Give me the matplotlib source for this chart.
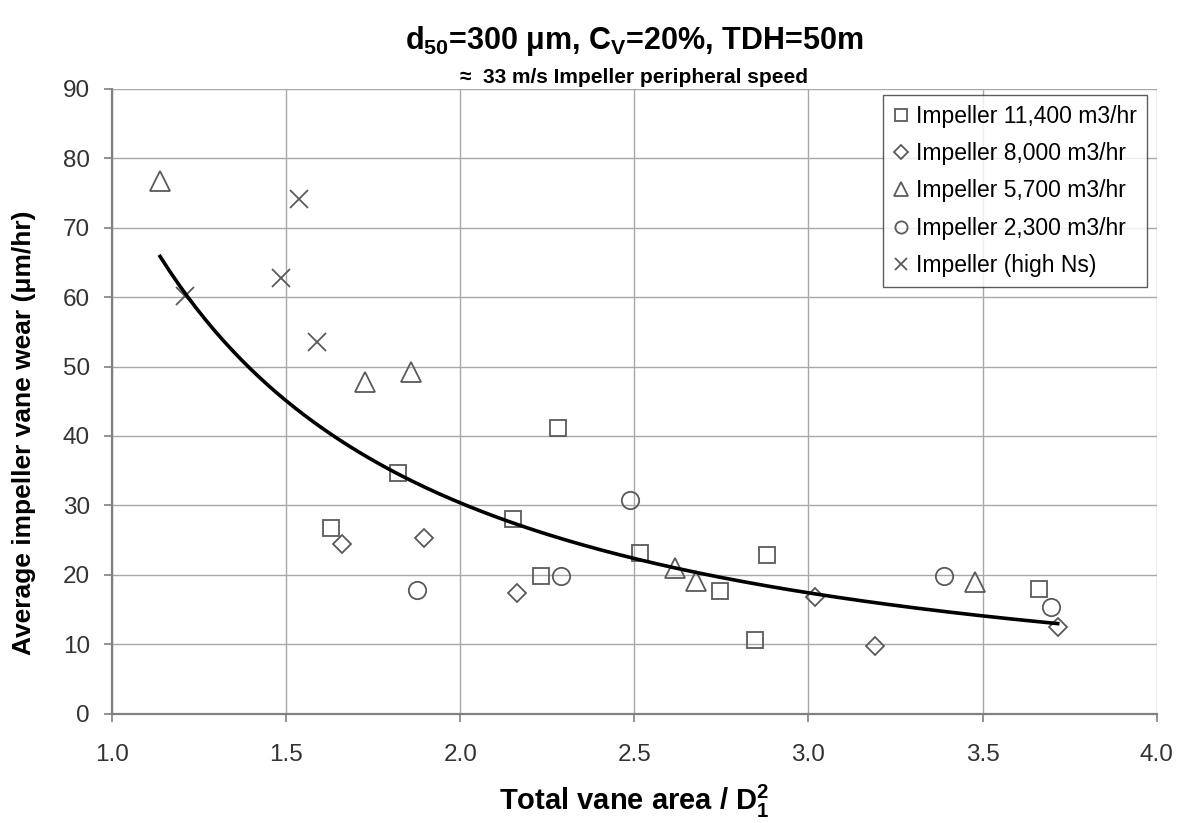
import numpy as np
import matplotlib
matplotlib.use("Agg")
import matplotlib.pyplot as plt

plt.rcParams["font.family"] = ["Liberation Sans", "DejaVu Sans"]
plt.rcParams["mathtext.fontset"] = "custom"
plt.rcParams["mathtext.rm"] = "Liberation Sans"
plt.rcParams["mathtext.bf"] = "Liberation Sans:bold"
plt.rcParams["mathtext.it"] = "Liberation Sans:italic"

# ----------------------------
# Data
# ----------------------------
sq_x = [1.82, 1.628, 2.152, 2.233, 2.282, 2.515, 2.745, 2.848, 2.881, 3.662]
sq_y = [34.7, 26.7, 28.1, 19.8, 41.2, 23.2, 17.7, 10.6, 22.9, 18.0]

dia_x = [1.66, 1.896, 2.163, 3.02, 3.192, 3.716]
dia_y = [24.4, 25.3, 17.3, 16.8, 9.8, 12.5]

tri_x = [1.138, 1.726, 1.858, 2.616, 2.676, 3.479]
tri_y = [76.8, 47.8, 49.2, 20.9, 19.1, 19.0]

circ_x = [1.875, 2.289, 2.488, 3.388, 3.697]
circ_y = [17.8, 19.8, 30.7, 19.8, 15.3]

ns_x = [1.21, 1.485, 1.537, 1.588]
ns_y = [60.1, 62.7, 74.1, 53.6]

labels = ["Impeller 11,400 m3/hr", "Impeller 8,000 m3/hr", "Impeller 5,700 m3/hr",
          "Impeller 2,300 m3/hr", "Impeller (high Ns)"]
x_ticks = [1.0, 1.5, 2.0, 2.5, 3.0, 3.5, 4.0]
y_ticks = [0, 10, 20, 30, 40, 50, 60, 70, 80, 90]

# power trendline fitted to all points (log-log least squares)
all_x = np.array(sq_x + dia_x + tri_x + circ_x + ns_x)
all_y = np.array(sq_y + dia_y + tri_y + circ_y + ns_y)
b, loga = np.polyfit(np.log(all_x), np.log(all_y), 1)
fit_x = np.linspace(all_x.min(), all_x.max(), 200)
fit_y = np.exp(loga) * fit_x ** b

fig = plt.figure(figsize=(11.79, 8.23), dpi=100)
ax = fig.add_axes([0.095, 0.133, 0.886, 0.759])

mc = "#5a5a5a"
common = dict(linestyle="none", markerfacecolor="none", markeredgecolor=mc, markeredgewidth=1.3)
ax.plot(sq_x, sq_y, marker="s", markersize=12, label=labels[0], **common)
ax.plot(dia_x, dia_y, marker="D", markersize=9.5, label=labels[1], **common)
ax.plot(tri_x, tri_y, marker="^", markersize=14, label=labels[2], **common)
ax.plot(circ_x, circ_y, marker="o", markersize=12.5, label=labels[3], **common)
ax.plot(ns_x, ns_y, marker="x", markersize=13, label=labels[4], **common)

ax.plot(fit_x, fit_y, color="black", linewidth=2.6)

ax.set_xlim(1.0, 4.0)
ax.set_ylim(0, 90)
ax.set_xticks(x_ticks)
ax.set_yticks(y_ticks)
ax.set_xticklabels([f"{t:.1f}" for t in x_ticks])
ax.grid(True, color="#a8a8a8", linewidth=1.0)
ax.set_axisbelow(True)
for s in ["top", "right"]:
    ax.spines[s].set_visible(False)
for s in ["left", "bottom"]:
    ax.spines[s].set_color("#808080")
    ax.spines[s].set_linewidth(1.6)
ax.tick_params(axis="both", labelsize=17.5, color="#808080", length=6, width=1.2,
               labelcolor="#333333")
ax.tick_params(axis="y", pad=10)
ax.tick_params(axis="x", pad=16)

ax.set_xlabel(r"Total vane area / D$_\mathbf{1}^\mathbf{2}$", fontsize=21,
              fontweight="bold", labelpad=12)
ax.set_ylabel("Average impeller vane wear (\u03bcm/hr)", fontsize=19, fontweight="bold")
ax.yaxis.set_label_coords(-0.073, 0.45)

fig.text(0.538, 0.95, r"d$_\mathbf{50}$=300 $\mathbf{\mu}$m, C$_\mathbf{V}$=20%, TDH=50m",
         ha="center", va="center", fontsize=22, fontweight="bold")
fig.text(0.538, 0.906, "\u2248  33 m/s Impeller peripheral speed",
         ha="center", va="center", fontsize=15, fontweight="bold")

leg = ax.legend(loc="upper right", bbox_to_anchor=(0.973, 0.885), bbox_transform=fig.transFigure,
                fontsize=16.5, frameon=True, fancybox=False, handlelength=0.7, handletextpad=0.3,
                borderpad=0.45, labelspacing=0.62, markerscale=0.7, borderaxespad=0)
leg.get_frame().set_edgecolor("#333333")
leg.get_frame().set_linewidth(1.0)

fig.savefig("out.png", dpi=100)
